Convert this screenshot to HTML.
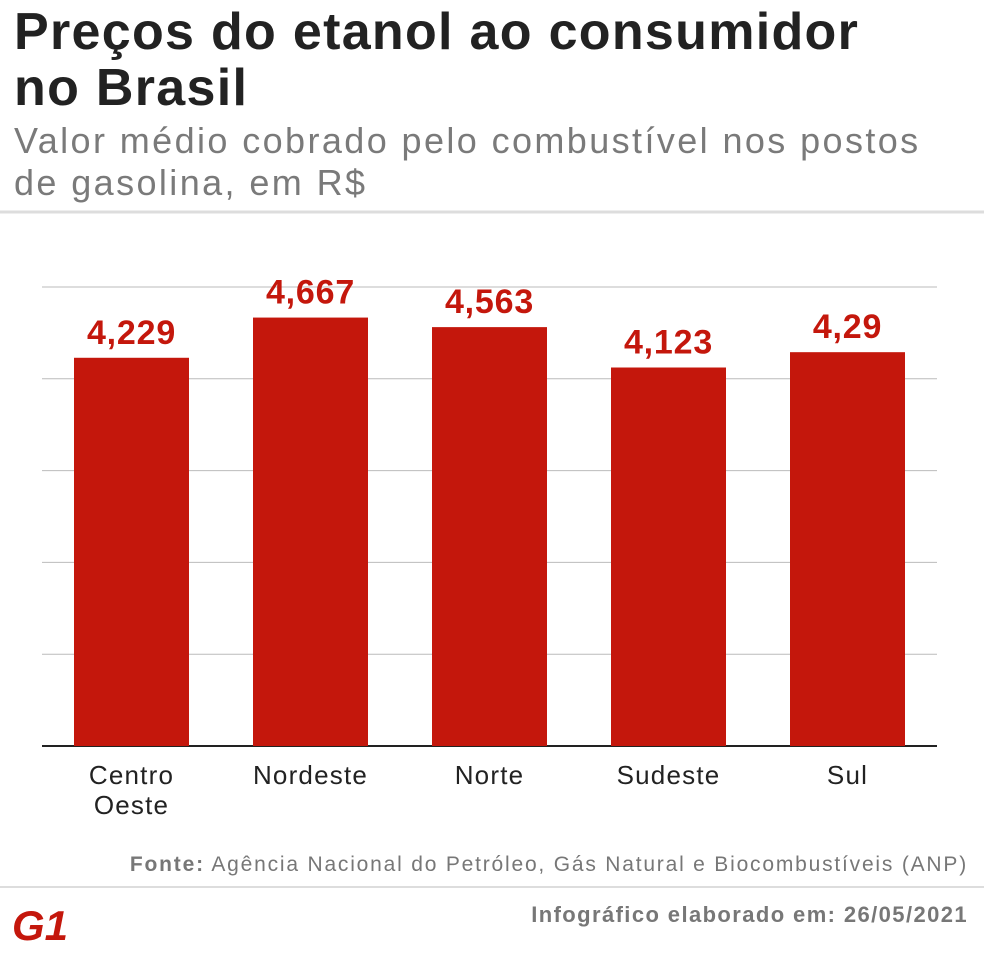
<!DOCTYPE html>
<html><head><meta charset="utf-8">
<style>
body{margin:0;background:#fff;width:984px;height:966px;overflow:hidden;font-family:"Liberation Sans","DejaVu Sans",sans-serif;}
#title{position:absolute;left:14px;top:4px;font-size:52px;font-weight:bold;color:#222;line-height:56px;margin:0;letter-spacing:1.3px}
#sub{position:absolute;left:14px;top:120px;font-size:36px;color:#7a7a7a;line-height:42px;margin:0;letter-spacing:2.4px}
</style></head><body>
<h1 id="title">Preços do etanol ao consumidor<br>no Brasil</h1>
<p id="sub">Valor médio cobrado pelo combustível nos postos<br>de gasolina, em R$</p>
<svg id="chart" width="984" height="966" style="position:absolute;left:0;top:0">
<line x1="0" y1="212" x2="984" y2="212" stroke="#ddd" stroke-width="3"/>
<line x1="0" y1="887" x2="984" y2="887" stroke="#ddd" stroke-width="2"/>
<text x="968" y="871" text-anchor="end" font-size="21" letter-spacing="1.8" fill="#777"><tspan font-weight="bold">Fonte:</tspan> Agência Nacional do Petróleo, Gás Natural e Biocombustíveis (ANP)</text>
<text x="968" y="922" text-anchor="end" font-size="22" letter-spacing="1.4" font-weight="bold" fill="#777">Infográfico elaborado em: 26/05/2021</text>
<g>
<text x="12" y="940" font-size="42" font-weight="bold" font-style="italic" fill="#c4170c" font-family="Liberation Sans, sans-serif">G1</text>
</g>
<g id="grid"></g><g id="bars"></g>
</svg>
<script>
const categories=["Centro|Oeste","Nordeste","Norte","Sudeste","Sul"];
const values=[4.229,4.667,4.563,4.123,4.29];
const labels=["4,229","4,667","4,563","4,123","4,29"];
const ticks=[0,1,2,3,4,5];
const NS="http://www.w3.org/2000/svg";
const y=v=>746-v*91.8;
const x=i=>74+i*179;
const g=document.getElementById('grid'),b=document.getElementById('bars');
ticks.forEach(t=>{const l=document.createElementNS(NS,'line');
l.setAttribute('x1',42);l.setAttribute('x2',937);l.setAttribute('y1',y(t));l.setAttribute('y2',y(t));
l.setAttribute('stroke',t===0?'#222':'#bbb');l.setAttribute('stroke-width',t===0?2:1);


g.appendChild(l);});
values.forEach((v,i)=>{
const r=document.createElementNS(NS,'rect');
r.setAttribute('x',x(i));r.setAttribute('width',115);r.setAttribute('y',y(v));r.setAttribute('height',746-y(v));r.setAttribute('fill','#c4170c');


b.appendChild(r);
const t=document.createElementNS(NS,'text');
t.setAttribute('x',x(i)+57.5);t.setAttribute('y',y(v)-14);t.setAttribute('text-anchor','middle');
t.setAttribute('font-size',34);t.setAttribute('font-weight','bold');t.setAttribute('fill','#c4170c');t.setAttribute('letter-spacing','0.8');
t.textContent=labels[i];


b.appendChild(t);
categories[i].split('|').forEach((s,k)=>{
const c=document.createElementNS(NS,'text');
c.setAttribute('x',x(i)+57.5);c.setAttribute('y',784+k*30);c.setAttribute('text-anchor','middle');
c.setAttribute('font-size',26);c.setAttribute('letter-spacing','1.2');c.setAttribute('fill','#222');c.textContent=s;


b.appendChild(c);});
});
</script>
</body></html>
